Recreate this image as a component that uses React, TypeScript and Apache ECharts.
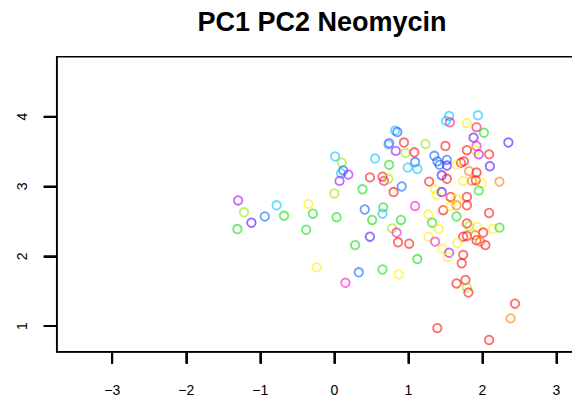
import React, { useEffect, useRef } from "react";
import * as echarts from "echarts";

const TITLE = "PC1 PC2 Neomycin";
const X_TICKS = [-3, -2, -1, 0, 1, 2, 3];
const Y_TICKS = [1, 2, 3, 4];
const X_MIN = -3.75;
const X_MAX = 3.25;
const Y_MIN = 0.632;
const Y_MAX = 4.86;

// colour group of every point
const GROUP_COLORS: Record<string, string> = {
  red: "rgba(255,0,0,0.72)",
  orange: "rgba(255,120,0,0.75)",
  yellow: "rgba(255,238,0,0.72)",
  ygreen: "rgba(150,230,0,0.72)",
  green: "rgba(0,220,0,0.72)",
  cyan: "rgba(0,190,255,0.72)",
  blue: "rgba(0,90,255,0.72)",
  indigo: "rgba(60,0,255,0.72)",
  purple: "rgba(160,0,255,0.72)",
  magenta: "rgba(255,0,200,0.72)",
  pink: "rgba(255,0,100,0.72)",
};

const pc1 = [
  0.01, 0.1, 0.12, 0.09, 0.19, 0.07, 0.55, 0.48, 0.38, 0.0,
  -1.3, -1.22, -0.78, -0.35, -0.29, -0.94, -0.68, -1.12, -1.31, -0.38,
  0.03, 0.41, 0.51, 0.48, 0.28, -0.24, 0.33, 0.15, 0.66, 0.65,
  1.09, 0.9, 0.78, 0.84, 0.86, 1.01, 1.12, 0.65, 0.87, 1.27,
  1.32, 1.41, 1.27, 1.36, 1.46, 1.55, 1.53, 1.47, 1.57, 1.65,
  1.79, 1.65, 2.09, 1.79, 1.82, 1.93, 2.01, 2.14, 2.23, 1.74,
  1.79, 1.9, 1.92, 1.97, 2.04, 1.66, 1.74, 1.72, 1.65, 1.77,
  1.79, 1.81, 2.44, 2.38, 1.39, 2.09, 1.55, 1.56, 1.51, 1.94,
  1.79, 1.92, 2.02, 1.88, 2.35, 0.82, 0.85, 0.74, 0.73, 0.94,
  1.23, 1.5, 1.92, 1.91, 0.83, 0.96, 1.08, 1.79, 1.95, 2.09,
  1.35, 1.39, 1.52, 1.52, 1.42, 1.75, 1.71, 1.65, 2.1, 0.74,
  1.09, 0.99, 1.12, 1.82, 1.92, 1.45, 1.52, 0.65, 0.67, 0.73,
  1.28, 1.74, 1.86, 1.91, 1.99, 2.23, 0.91, 0.8, 1.36, 1.38,
  1.45, 1.95, 1.57, 1.65, 1.79,
];

const pc2 = [
  3.43, 3.34, 3.23, 3.19, 3.17, 3.08, 3.4, 3.13, 2.96, 2.9,
  2.8, 2.63, 2.73, 2.75, 2.61, 2.57, 2.58, 2.48, 2.39, 2.38,
  2.56, 2.67, 2.52, 2.28, 2.16, 1.84, 1.77, 1.62, 2.7, 2.61,
  2.72, 2.52, 2.4, 2.34, 2.2, 2.18, 1.96, 1.81, 1.74, 2.6,
  2.48, 2.39, 2.28, 2.21, 2.11, 2.05, 1.99, 2.66, 2.72, 2.73,
  2.73, 2.57, 2.62, 2.47, 2.43, 2.42, 2.34, 2.39, 2.41, 2.28,
  2.29, 2.3, 2.23, 2.21, 2.16, 2.19, 2.02, 1.9, 1.61, 1.66,
  1.55, 1.48, 1.32, 1.11, 0.97, 0.8, 4.01, 3.92, 3.94, 4.02,
  3.91, 3.85, 3.77, 3.7, 3.63, 3.8, 3.78, 3.62, 3.6, 3.63,
  3.61, 3.58, 3.58, 3.52, 3.51, 3.48, 3.49, 3.52, 3.46, 3.46,
  3.44, 3.36, 3.38, 3.3, 3.31, 3.36, 3.34, 3.31, 3.29, 3.31,
  3.35, 3.27, 3.25, 3.22, 3.2, 3.16, 3.11, 3.14, 3.08, 3.11,
  3.07, 3.08, 3.08, 3.09, 3.05, 3.07, 3.0, 2.92, 2.96, 2.88,
  2.92, 2.94, 2.85, 2.82, 2.85,
];

const grp = [
  "cyan", "ygreen", "blue", "cyan", "purple", "purple", "cyan", "red", "green", "ygreen",
  "purple", "ygreen", "cyan", "yellow", "green", "blue", "green", "indigo", "green", "green",
  "green", "blue", "green", "indigo", "green", "yellow", "blue", "magenta", "green", "cyan",
  "magenta", "green", "ygreen", "magenta", "red", "red", "green", "green", "yellow", "yellow",
  "green", "yellow", "yellow", "magenta", "yellow", "purple", "yellow", "red", "yellow", "orange",
  "red", "green", "red", "red", "ygreen", "yellow", "red", "yellow", "green", "red",
  "red", "orange", "red", "orange", "red", "yellow", "red", "red", "red", "red",
  "ygreen", "red", "red", "orange", "red", "red", "cyan", "pink", "cyan", "cyan",
  "yellow", "pink", "green", "indigo", "indigo", "cyan", "blue", "purple", "cyan", "red",
  "ygreen", "red", "magenta", "yellow", "purple", "ygreen", "red", "red", "purple", "red",
  "blue", "blue", "blue", "indigo", "blue", "red", "red", "yellow", "indigo", "green",
  "blue", "cyan", "cyan", "orange", "red", "indigo", "red", "red", "pink", "ygreen",
  "red", "yellow", "orange", "red", "yellow", "orange", "blue", "red", "yellow", "yellow",
  "indigo", "green", "red", "yellow", "red",
];

const FONT = "'Liberation Sans', Arial, Helvetica, sans-serif";
const TICK_LEN = 12;

export default function App() {
  const ref = useRef<HTMLDivElement>(null);
  useEffect(() => {
    if (!ref.current) return;
    const chart = echarts.init(ref.current, undefined, { renderer: "svg" });
    const data = pc1.map((x, i) => ({
      value: [x, pc2[i]],
      itemStyle: {
        color: "transparent",
        borderColor: GROUP_COLORS[grp[i]],
        borderWidth: 1.8,
      },
    }));
    chart.setOption({
      animation: false,
      title: {
        text: TITLE,
        left: 317,
        top: 3,
        textAlign: "center",
        textStyle: {
          fontFamily: FONT,
          fontWeight: "bold",
          fontSize: 27,
          color: "#000",
        },
      },
      grid: {
        left: 56.7,
        right: 5,
        top: 56.7,
        bottom: 53.3,
        show: true,
        borderColor: "#000",
        borderWidth: 1.5,
      },
      xAxis: {
        type: "value",
        min: X_MIN,
        max: X_MAX,
        splitLine: { show: true, lineStyle: { color: "rgba(0,0,0,0)" } },
        axisLine: { show: true, onZero: false, lineStyle: { color: "#000", width: 1.5 } },
        axisTick: {
          show: true,
          length: TICK_LEN,
          customValues: X_TICKS,
          lineStyle: { color: "#000", width: 2 },
        },
        axisLabel: {
          customValues: X_TICKS,
          margin: 31,
          fontFamily: FONT,
          fontSize: 14,
          color: "#000",
          formatter: (v: number) => (v < 0 ? "\u2212" + Math.abs(v) : String(v)),
        },
      },
      yAxis: {
        type: "value",
        min: Y_MIN,
        max: Y_MAX,
        splitLine: { show: true, lineStyle: { color: "rgba(0,0,0,0)" } },
        axisLine: { show: true, onZero: false, lineStyle: { color: "#000", width: 1.5 } },
        axisTick: {
          show: true,
          length: TICK_LEN + 1,
          customValues: Y_TICKS,
          lineStyle: { color: "#000", width: 2 },
        },
        axisLabel: {
          customValues: Y_TICKS,
          rotate: 90,
          margin: 28,
          fontFamily: FONT,
          fontSize: 14,
          color: "#000",
        },
      },
      series: [
        {
          type: "scatter",
          symbol: "circle",
          symbolSize: 8.5,
          data,
        },
      ],
    });

    // outward tick marks placed through the chart's own scales (backup layer)
    const lines: any[] = [];
    X_TICKS.forEach((v) => {
      const p = chart.convertToPixel({ gridIndex: 0 }, [v, Y_MIN]) as number[];
      lines.push({
        type: "line",
        z: 50,
        shape: { x1: p[0], y1: p[1], x2: p[0], y2: p[1] + TICK_LEN },
        style: { stroke: "#000", lineWidth: 2 },
      });
    });
    Y_TICKS.forEach((v) => {
      const p = chart.convertToPixel({ gridIndex: 0 }, [X_MIN, v]) as number[];
      lines.push({
        type: "line",
        z: 50,
        shape: { x1: p[0] - TICK_LEN - 1, y1: p[1], x2: p[0], y2: p[1] },
        style: { stroke: "#000", lineWidth: 2 },
      });
    });
    chart.setOption({ graphic: lines });

    return () => chart.dispose();
  }, []);
  return <div ref={ref} style={{ width: 580, height: 405, margin: -8 }} />;
}
